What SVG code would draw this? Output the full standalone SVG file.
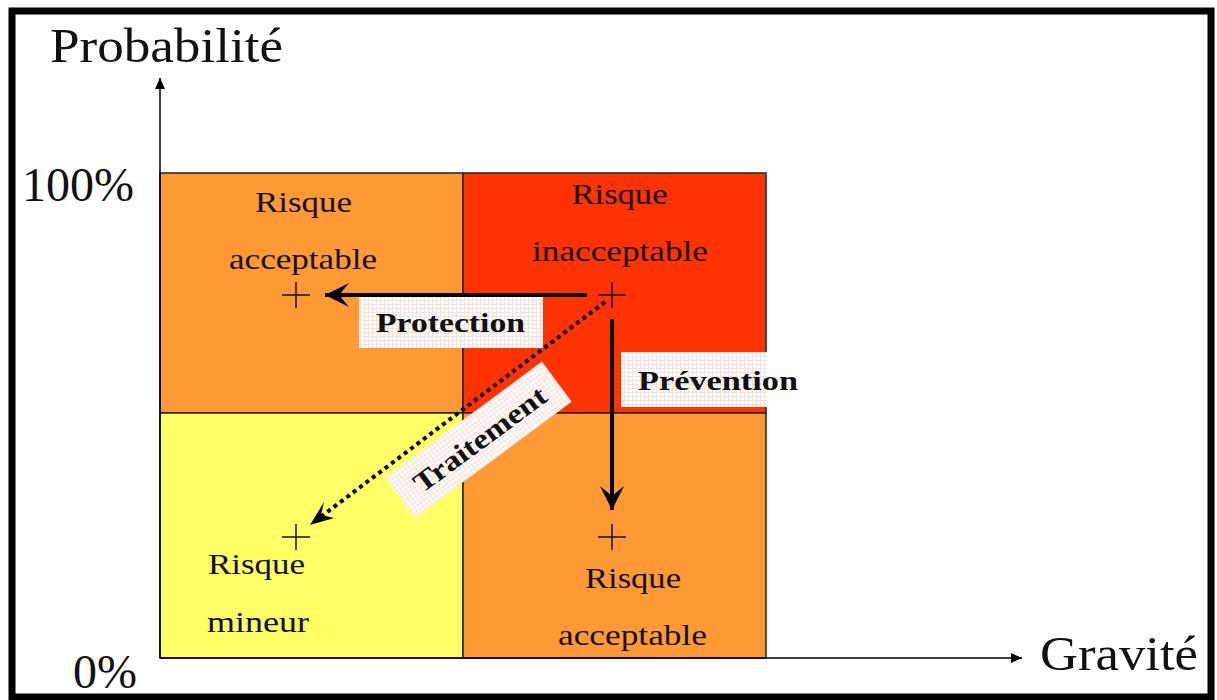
<svg xmlns="http://www.w3.org/2000/svg" width="1217" height="700" viewBox="0 0 1217 700">
  <style>
    .cell { stroke: #222; stroke-width: 1.5; }
    .lbl { font-family: "Liberation Serif", "Times New Roman", serif; font-size: 30px; fill: #111; text-anchor: middle; }
    .axis { font-family: "Liberation Serif", "Times New Roman", serif; font-size: 48px; fill: #111; }
    .act { font-family: "Liberation Serif", "Times New Roman", serif; font-size: 28px; font-weight: bold; fill: #111; }
    .plus { stroke: #111; stroke-width: 1.5; fill: none; }
    .hatch { fill: url(#hatch); }
    .thick { stroke: #000; stroke-width: 4; fill: none; }
  </style>
  <defs>
    <pattern id="hatch" width="4" height="4" patternUnits="userSpaceOnUse">
      <rect width="4" height="4" fill="#ffffff"/>
      <path d="M0 0.5H4M0.5 0V4" stroke="#f8e0da" stroke-width="1"/>
    </pattern>
    <marker id="axhead" markerWidth="12" markerHeight="12" refX="11" refY="6" orient="auto" markerUnits="userSpaceOnUse">
      <path d="M0 1 L11 6 L0 11 Z" fill="#000"/>
    </marker>
    <marker id="bighead" markerWidth="26" markerHeight="26" refX="24" refY="13" orient="auto" markerUnits="userSpaceOnUse">
      <path d="M0 1 L24 13 L0 25 L10 13 Z" fill="#000"/>
    </marker>
  </defs>

  <rect id="frame" x="12" y="11" width="1199" height="686" fill="#fff" stroke="#000" stroke-width="7"/>

  <g id="grid">
    <rect class="cell" x="160" y="173" width="303" height="240" fill="#FF9933"/>
    <rect class="cell" x="463" y="173" width="303" height="240" fill="#FF3300"/>
    <rect class="cell" x="160" y="413" width="303" height="245" fill="#FFFF66"/>
    <rect class="cell" x="463" y="413" width="303" height="245" fill="#FF9933"/>
  </g>

  <g id="axes">
    <line x1="160" y1="658" x2="160" y2="78" stroke="#000" stroke-width="1.5" marker-end="url(#axhead)"/>
    <line x1="160" y1="658" x2="1022" y2="658" stroke="#000" stroke-width="1.5" marker-end="url(#axhead)"/>
    <text class="axis" x="50" y="62" textLength="233" lengthAdjust="spacingAndGlyphs">Probabilité</text>
    <text class="axis" x="22" y="201" textLength="112" lengthAdjust="spacingAndGlyphs">100%</text>
    <text class="axis" x="73" y="688" textLength="64" lengthAdjust="spacingAndGlyphs">0%</text>
    <text class="axis" x="1040" y="670" textLength="158" lengthAdjust="spacingAndGlyphs">Gravité</text>
  </g>

  <g id="node-acceptable-top">
    <text class="lbl" x="303.5" y="212" textLength="97" lengthAdjust="spacingAndGlyphs">Risque</text>
    <text class="lbl" x="303" y="269" textLength="148" lengthAdjust="spacingAndGlyphs">acceptable</text>
    <path class="plus" d="M282 295H310M296 282V308"/>
  </g>
  <g id="node-inacceptable">
    <text class="lbl" x="619.5" y="204" textLength="96" lengthAdjust="spacingAndGlyphs">Risque</text>
    <text class="lbl" x="620" y="261" textLength="176" lengthAdjust="spacingAndGlyphs">inacceptable</text>
    <path class="plus" d="M598 295H626M612 282V308"/>
  </g>
  <g id="node-mineur">
    <path class="plus" d="M282 537H310M296 524V550"/>
    <text class="lbl" x="256.5" y="574" textLength="97" lengthAdjust="spacingAndGlyphs">Risque</text>
    <text class="lbl" x="258" y="632" textLength="102" lengthAdjust="spacingAndGlyphs">mineur</text>
  </g>
  <g id="node-acceptable-bottom">
    <path class="plus" d="M598 537H626M612 524V550"/>
    <text class="lbl" x="633" y="588" textLength="96" lengthAdjust="spacingAndGlyphs">Risque</text>
    <text class="lbl" x="632.5" y="645" textLength="149" lengthAdjust="spacingAndGlyphs">acceptable</text>
  </g>

  <g id="connectors">
    <line class="thick" x1="587" y1="295" x2="325" y2="295" marker-end="url(#bighead)"/>
    <line class="thick" x1="612" y1="319" x2="612" y2="510" marker-end="url(#bighead)"/>
    <line x1="605" y1="302" x2="318" y2="519" stroke="#000" stroke-width="4" stroke-dasharray="4 4" fill="none"/>
    <path d="M310 525 L324 502 L321 515 L334 518 Z" fill="#000"/>
  </g>

  <g id="label-protection">
    <rect class="hatch" x="359" y="297" width="184" height="51"/>
    <text class="act" x="376" y="332" textLength="149" lengthAdjust="spacingAndGlyphs">Protection</text>
  </g>
  <g id="label-prevention">
    <rect class="hatch" x="621" y="352" width="146" height="55"/>
    <text class="act" x="638" y="390" textLength="160" lengthAdjust="spacingAndGlyphs">Prévention</text>
  </g>
  <g id="label-traitement" transform="translate(478,440) rotate(-36.5)">
    <rect class="hatch" x="-97" y="-25" width="195" height="50"/>
    <text class="act" x="2" y="10" text-anchor="middle" textLength="158" lengthAdjust="spacingAndGlyphs">Traitement</text>
  </g>
</svg>
